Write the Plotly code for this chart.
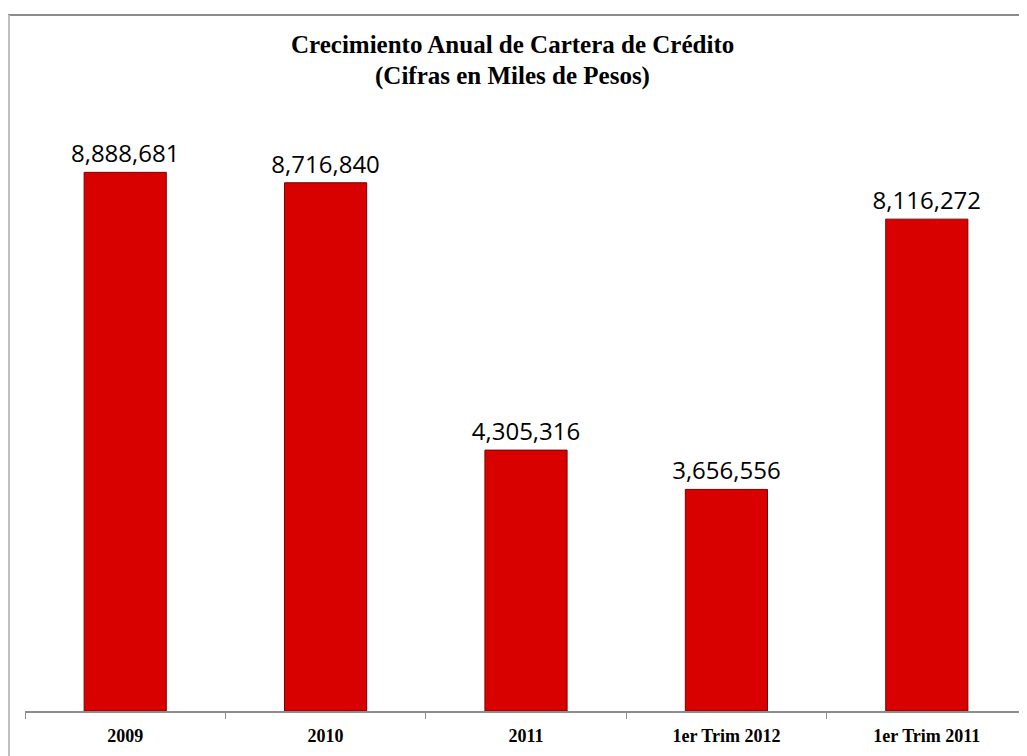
import plotly.graph_objects as go

categories = ["2009", "2010", "2011", "1er Trim 2012", "1er Trim 2011"]
values = [8888681, 8716840, 4305316, 3656556, 8116272]
title_lines = ["Crecimiento Anual de Cartera de Crédito", "(Cifras en Miles de Pesos)"]

# page has an 8px body margin; figure sized so it ends at the window edge
OFF = 8
W, H = 1027 - OFF, 756 - OFF
L, R, T, B = 25 - OFF, 0, 105 - OFF, 756 - 711
pw, ph = W - L - R, H - T - B

def px_x(x):
    return (x - OFF - L) / pw

def px_y(y):
    return (H - B - (y - OFF)) / ph

fig = go.Figure()
fig.add_trace(go.Bar(
    x=categories, y=values,
    marker=dict(color="#D90000", line=dict(color="#7A0000", width=1)),
    texttemplate="%{y:,.0f}", textposition="outside", constraintext="none",
    textfont=dict(family="Open Sans", size=24, color="#000000"),
    cliponaxis=False,
))

annotations = []
for line, yc in zip(title_lines, [45, 76]):
    annotations.append(dict(
        text=line, xref="paper", yref="paper", x=px_x(512), y=px_y(yc),
        xanchor="center", yanchor="middle", showarrow=False,
        font=dict(family="Liberation Serif", size=25, color="#000000", weight="bold"),
    ))

fig.update_layout(
    width=W, height=H,
    margin=dict(l=L, r=R, t=T, b=B),
    paper_bgcolor="white", plot_bgcolor="white",
    showlegend=False,
    bargap=0.59,
    annotations=annotations,
    xaxis=dict(
        showline=True, linecolor="#8C8C8C", linewidth=2,
        ticks="outside", ticklen=6, tickcolor="#8C8C8C", tickwidth=1,
        tickson="boundaries", showgrid=False, ticklabelstandoff=7,
        tickfont=dict(family="Liberation Serif", size=18, color="#000000", weight="bold"),
    ),
    yaxis=dict(range=[0, 10000000], visible=False, showgrid=False),
    shapes=[
        dict(type="line", xref="paper", yref="paper",
             x0=px_x(8), x1=px_x(1027), y0=px_y(15), y1=px_y(15),
             line=dict(color="#8C8C8C", width=2)),
        dict(type="line", xref="paper", yref="paper",
             x0=px_x(9), x1=px_x(9), y0=px_y(15), y1=px_y(756),
             line=dict(color="#BFBFBF", width=2)),
    ],
)

fig.write_html("out.html")
